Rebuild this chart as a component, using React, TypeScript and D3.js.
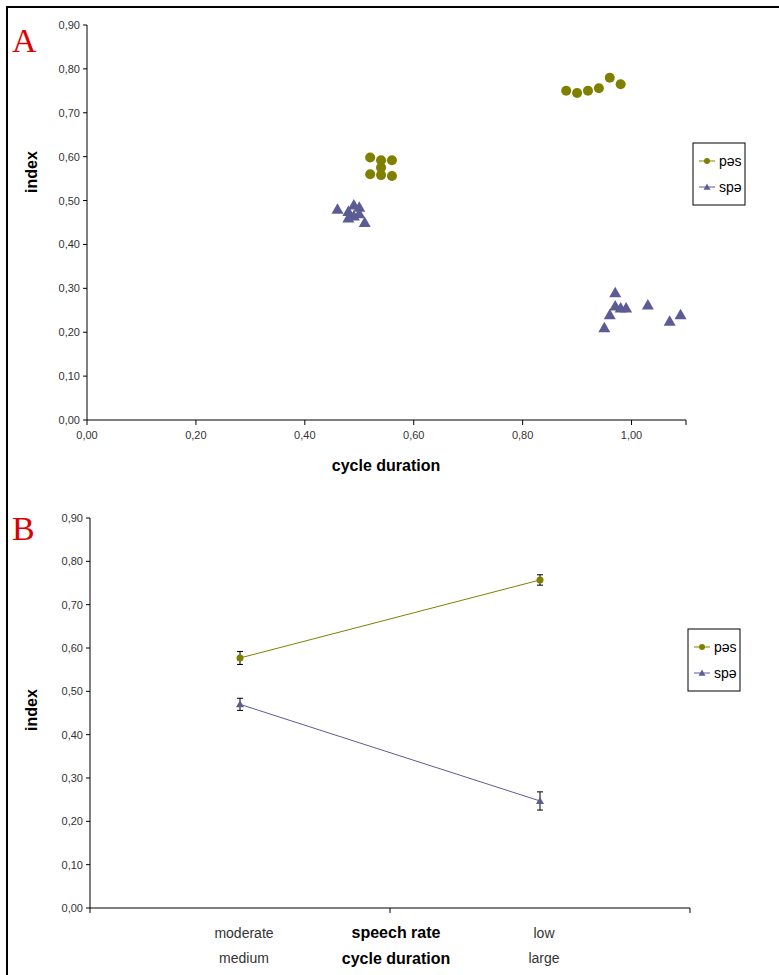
import React from "react";
import * as d3 from "d3";

const pesX = [0.52, 0.54, 0.56, 0.54, 0.52, 0.54, 0.56, 0.88, 0.9, 0.92, 0.94, 0.96, 0.98];
const pesY = [0.598, 0.592, 0.592, 0.575, 0.56, 0.558, 0.556, 0.75, 0.745, 0.75, 0.756, 0.78, 0.765];
const speX = [0.46, 0.48, 0.49, 0.5, 0.48, 0.49, 0.5, 0.51, 0.97, 0.97, 0.98, 0.99, 0.96, 0.95, 1.03, 1.07, 1.09];
const speY = [0.48, 0.475, 0.49, 0.485, 0.46, 0.465, 0.47, 0.45, 0.29, 0.26, 0.255, 0.255, 0.24, 0.21, 0.262, 0.225, 0.24];

const rateCats = ["moderate", "low"];
const durCats = ["medium", "large"];
const pesMean = [0.577, 0.757];
const pesErr = [0.015, 0.012];
const speMean = [0.47, 0.247];
const speErr = [0.014, 0.021];

const yTicks = [0, 0.1, 0.2, 0.3, 0.4, 0.5, 0.6, 0.7, 0.8, 0.9];
const xTicks = [0, 0.2, 0.4, 0.6, 0.8, 1.0];

const OLIVE = "#808000";
const PURPLE = "#5c5c94";
const fmt = (v: number) => v.toFixed(2).replace(".", ",");
const font = "Liberation Sans, Arial, sans-serif";

const tri = (x: number, y: number, s = 6) => `M${x},${y - s}L${x + s},${y + s * 0.75}L${x - s},${y + s * 0.75}Z`;

function YAxis({ y, x0 }: { y: d3.ScaleLinear<number, number>; x0: number }) {
  return (
    <g>
      <line x1={x0} x2={x0} y1={y(0.9)} y2={y(0)} stroke="#000" />
      {yTicks.map((t) => (
        <g key={t}>
          <line x1={x0 - 4} x2={x0} y1={y(t)} y2={y(t)} stroke="#000" />
          <text x={x0 - 7} y={y(t) + 4} textAnchor="end" fontSize={11} fill="#333">{fmt(t)}</text>
        </g>
      ))}
    </g>
  );
}

function Legend({ x, y }: { x: number; y: number }) {
  return (
    <g transform={`translate(${x},${y})`}>
      <rect width={52} height={62} fill="#fff" stroke="#000" />
      <line x1={6} x2={22} y1={18} y2={18} stroke={OLIVE} />
      <circle cx={14} cy={18} r={3} fill={OLIVE} />
      <text x={26} y={23} fontSize={14} fill="#000">pəs</text>
      <line x1={6} x2={22} y1={44} y2={44} stroke={PURPLE} />
      <path d={tri(14, 44, 3.5)} fill={PURPLE} />
      <text x={26} y={49} fontSize={14} fill="#000">spə</text>
    </g>
  );
}

export default function App() {
  const xA = d3.scaleLinear().domain([0, 1.1]).range([87, 686]);
  const yA = d3.scaleLinear().domain([0, 0.9]).range([420, 25]);
  const yB = d3.scaleLinear().domain([0, 0.9]).range([908, 518]);
  const xB = d3.scaleBand<string>().domain(rateCats).range([90, 690]);
  const cx = (i: number) => (xB(rateCats[i]) as number) + xB.bandwidth() / 2;
  const lineB = (m: number[]) => d3.line<number>().x((_, i) => cx(i)).y((v) => yB(v))(m) as string;

  return (
    <svg width={779} height={975} style={{ position: "absolute", left: 0, top: 0 }} fontFamily={font}>
      <rect x={0} y={0} width={779} height={975} fill="#fff" />
      <rect x={7} y={7} width={790} height={980} fill="none" stroke="#000" strokeWidth={2} />
      {/* Panel A */}
      <text x={12} y={52} fontSize={34} fill="#e00000" fontFamily="Liberation Serif, serif">A</text>
      <YAxis y={yA} x0={87} />
      <line x1={87} x2={686} y1={420} y2={420} stroke="#000" />
      {[...xTicks, 1.1].map((t) => (
        <line key={t} x1={xA(t)} x2={xA(t)} y1={420} y2={425} stroke="#000" />
      ))}
      {xTicks.map((t) => (
        <text key={t} x={xA(t)} y={439} textAnchor="middle" fontSize={11} fill="#333">{fmt(t)}</text>
      ))}
      <text x={386} y={471} textAnchor="middle" fontSize={16} fontWeight="bold">cycle duration</text>
      <text transform="translate(37,172) rotate(-90)" textAnchor="middle" fontSize={16} fontWeight="bold">index</text>
      {pesX.map((v, i) => (
        <circle key={"p" + i} cx={xA(v)} cy={yA(pesY[i])} r={5} fill={OLIVE} />
      ))}
      {speX.map((v, i) => (
        <path key={"s" + i} d={tri(xA(v), yA(speY[i]))} fill={PURPLE} />
      ))}
      <Legend x={693} y={143} />

      {/* Panel B */}
      <text x={12} y={540} fontSize={34} fill="#e00000" fontFamily="Liberation Serif, serif">B</text>
      <YAxis y={yB} x0={90} />
      <line x1={90} x2={690} y1={908} y2={908} stroke="#000" />
      {[90, 390, 690].map((t) => (
        <line key={t} x1={t} x2={t} y1={908} y2={913} stroke="#000" />
      ))}
      {rateCats.map((c, i) => (
        <g key={c}>
          <text x={cx(i) + 4} y={938} textAnchor="middle" fontSize={14} fill="#333">{c}</text>
          <text x={cx(i) + 4} y={963} textAnchor="middle" fontSize={14} fill="#333">{durCats[i]}</text>
        </g>
      ))}
      <text x={396} y={938} textAnchor="middle" fontSize={16} fontWeight="bold">speech rate</text>
      <text x={396} y={964} textAnchor="middle" fontSize={16} fontWeight="bold">cycle duration</text>
      <text transform="translate(37,710) rotate(-90)" textAnchor="middle" fontSize={16} fontWeight="bold">index</text>
      <path d={lineB(pesMean)} stroke={OLIVE} fill="none" />
      <path d={lineB(speMean)} stroke={PURPLE} fill="none" />
      {[{ m: pesMean, e: pesErr, c: OLIVE, k: "p" }, { m: speMean, e: speErr, c: PURPLE, k: "s" }].map((s) =>
        s.m.map((v, i) => (
          <g key={s.k + i}>
            <line x1={cx(i)} x2={cx(i)} y1={yB(v - s.e[i])} y2={yB(v + s.e[i])} stroke="#000" />
            <line x1={cx(i) - 3} x2={cx(i) + 3} y1={yB(v - s.e[i])} y2={yB(v - s.e[i])} stroke="#000" />
            <line x1={cx(i) - 3} x2={cx(i) + 3} y1={yB(v + s.e[i])} y2={yB(v + s.e[i])} stroke="#000" />
            {s.k === "p" ? (
              <circle cx={cx(i)} cy={yB(v)} r={3.5} fill={s.c} />
            ) : (
              <path d={tri(cx(i), yB(v), 4)} fill={s.c} />
            )}
          </g>
        ))
      )}
      <Legend x={688} y={629} />
    </svg>
  );
}
